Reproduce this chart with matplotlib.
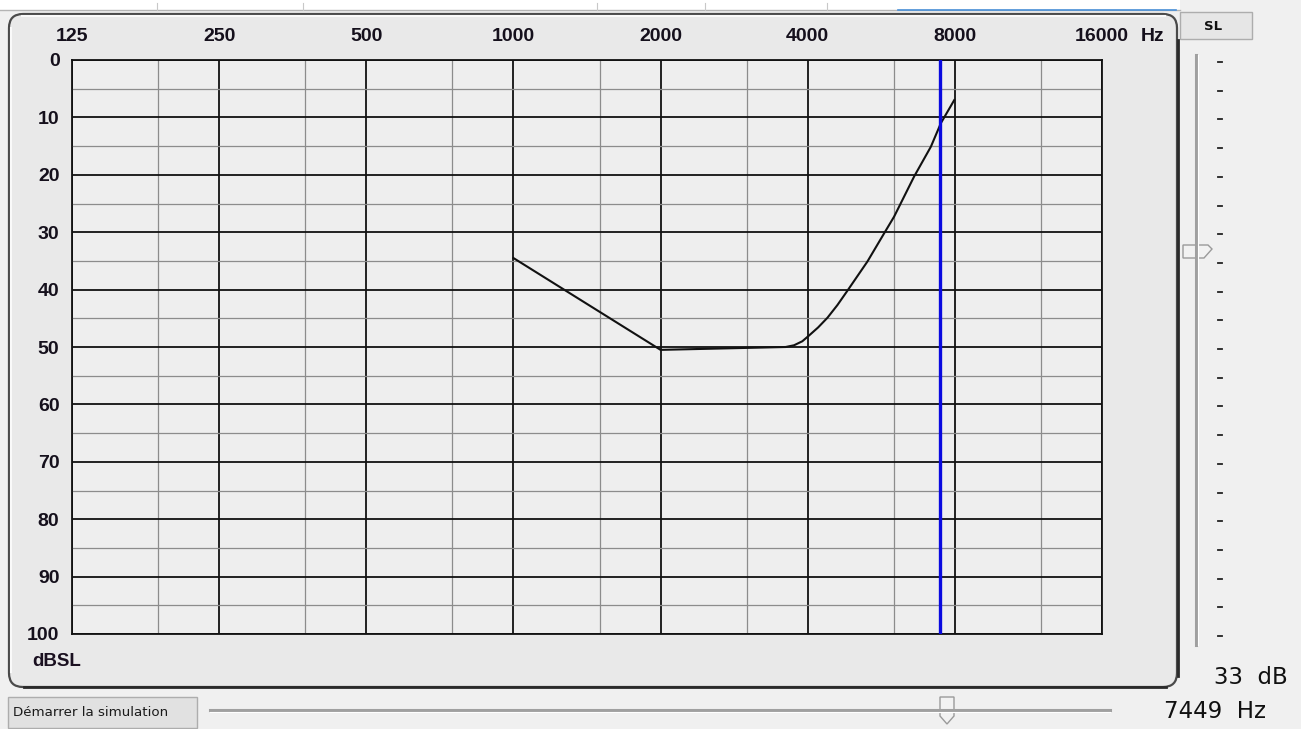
import matplotlib
matplotlib.use("Agg")
import matplotlib.pyplot as plt
from matplotlib.patches import FancyBboxPatch, Rectangle, Polygon
from matplotlib.ticker import FixedLocator, NullFormatter

# ---------------- data ----------------
freq_ticks = [125, 250, 500, 1000, 2000, 4000, 8000, 16000]
freq_labels = ["125", "250", "500", "1000", "2000", "4000", "8000", "16000"]
freq_minor = [187.5, 375, 750, 1500, 3000, 6000, 12000]
db_ticks = [0, 10, 20, 30, 40, 50, 60, 70, 80, 90, 100]
db_minor = [5, 15, 25, 35, 45, 55, 65, 75, 85, 95]

curve_freq = [1000, 2000, 3605, 3750, 3900, 4025, 4200, 4390, 4600, 4822, 5300, 5733, 6008, 6603, 7146, 7490, 7975]
curve_db = [34.5, 50.5, 50.0, 49.7, 49.0, 48.0, 46.6, 44.9, 42.7, 40.2, 35.1, 30.2, 27.3, 20.3, 15.1, 11.0, 7.0]

current_freq = 7449
current_db = 33
slider_ticks = list(range(21))

# ---------------- figure ----------------
W, H = 1301, 729
fig = plt.figure(figsize=(W / 100, H / 100), dpi=100, facecolor="#f0f0f0")

# background UI layer in pixel coordinates
bg = fig.add_axes([0, 0, 1, 1])
bg.set_xlim(0, W)
bg.set_ylim(H, 0)
bg.axis("off")

# top tab strip
bg.add_patch(Rectangle((0, 0), 1180, 10, facecolor="#ffffff", edgecolor="none"))
bg.plot([0, 1180], [10, 10], color="#b4b4b4", lw=1)
bg.plot([898, 1176], [10, 10], color="#4a90d9", lw=1.2)
for xs in [157, 303, 597, 705, 827]:
    bg.plot([xs, xs], [3, 10], color="#c8c8c8", lw=0.8)

# main brushed-metal panel
panel = FancyBboxPatch((9, 14), 1168, 673, boxstyle="round,pad=0,rounding_size=14",
                       facecolor="#e9e9e9", edgecolor="#4a4a4a", lw=1.6)
bg.add_patch(panel)
bg.plot([22, 1165], [15.5, 15.5], color="#fafafa", lw=1.5)
bg.plot([10.5, 10.5], [28, 672], color="#fafafa", lw=1.5)
bg.plot([1177.5, 1177.5], [40, 676], color="#2a2a2a", lw=2)
bg.plot([24, 1166], [686.5, 686.5], color="#2a2a2a", lw=2)

# SL button
bg.add_patch(Rectangle((1180, 12), 72, 27, facecolor="#e6e6e6", edgecolor="#adadad", lw=1))
bg.text(1213, 26, "SL", fontsize=9.5, fontweight="bold", family="DejaVu Sans",
        ha="center", va="center", color="#111111")

# vertical slider
bg.plot([1196, 1196], [55, 645], color="#a0a0a0", lw=2.2)
bg.plot([1197.5, 1197.5], [55, 645], color="#ffffff", lw=0.8)
y0s, y1s = 62, 636
for i in slider_ticks:
    yy = y0s + (y1s - y0s) * i / (len(slider_ticks) - 1)
    bg.plot([1218, 1222], [yy, yy], color="#222222", lw=1.3)
ty = 252
bg.add_patch(Polygon([[1183, ty - 7], [1208, ty - 7], [1212, ty - 3], [1204, ty + 6], [1183, ty + 6]],
                     closed=True, facecolor="#f2f2f2", edgecolor="#9a9a9a", lw=1))

# bottom controls
bg.add_patch(Rectangle((8, 697), 189, 31, facecolor="#e1e1e1", edgecolor="#adadad", lw=1))
bg.text(13, 712.5, "Démarrer la simulation", fontsize=9.6, family="DejaVu Sans",
        ha="left", va="center", color="#1a1a1a")
bg.plot([210, 1110], [710, 710], color="#a0a0a0", lw=2.2)
bg.plot([210, 1110], [711.5, 711.5], color="#ffffff", lw=0.8)
tx = 948
bg.add_patch(Polygon([[tx - 8, 697], [tx + 6, 697], [tx + 6, 716], [tx - 1, 724], [tx - 8, 716]],
                     closed=True, facecolor="#f2f2f2", edgecolor="#9a9a9a", lw=1))

bg.text(1288, 677, f"{current_db}  dB", fontsize=16.5, family="DejaVu Sans",
        ha="right", va="center", color="#111111")
bg.text(1266, 712, f"{current_freq}  Hz", fontsize=16.5, family="DejaVu Sans",
        ha="right", va="center", color="#111111")

bg.text(32, 662, "dBSL", fontsize=13.5, fontweight="bold", family="Liberation Sans",
        ha="left", va="center", color="#1a1020")

# ---------------- audiogram axes ----------------
L, R, T, B = 72, 1102, 60, 634
ax = fig.add_axes([L / W, 1 - B / H, (R - L) / W, (B - T) / H])
ax.set_facecolor("#eeeeee")
ax.set_xscale("log", base=2)
ax.set_xlim(125, 16000)
ax.set_ylim(100, 0)

ax.xaxis.set_major_locator(FixedLocator(freq_ticks))
ax.xaxis.set_minor_locator(FixedLocator(freq_minor))
ax.xaxis.set_minor_formatter(NullFormatter())
ax.set_xticks(freq_ticks)
ax.set_xticklabels(freq_labels)
ax.yaxis.set_major_locator(FixedLocator(db_ticks))
ax.yaxis.set_minor_locator(FixedLocator(db_minor))
ax.set_yticks(db_ticks)
ax.set_yticklabels([str(v) for v in db_ticks])

ax.xaxis.tick_top()
ax.tick_params(axis="both", which="both", length=0)
ax.tick_params(axis="x", which="major", pad=11)
ax.tick_params(axis="y", which="major", pad=9)
for lab in ax.get_xticklabels() + ax.get_yticklabels():
    lab.set_fontfamily("Liberation Sans")
    lab.set_fontweight("bold")
    lab.set_fontsize(14)
    lab.set_color("#15101c")

ax.grid(which="major", color="#111111", lw=1.3)
ax.grid(which="minor", color="#8c8c8c", lw=0.9)
ax.set_axisbelow(True)
for s in ax.spines.values():
    s.set_color("#111111")
    s.set_linewidth(1.3)

ax.annotate("Hz", xy=(1, 1), xycoords="axes fraction", xytext=(28, 11), textcoords="offset points",
            ha="left", va="bottom", fontsize=14, fontweight="bold", family="Liberation Sans",
            color="#15101c", annotation_clip=False)

ax.plot(curve_freq, curve_db, color="#111111", lw=1.5, zorder=3)
ax.axvline(current_freq, color="#0a0ae0", lw=2.4, zorder=4)

fig.savefig("out.png", dpi=100, facecolor=fig.get_facecolor())
